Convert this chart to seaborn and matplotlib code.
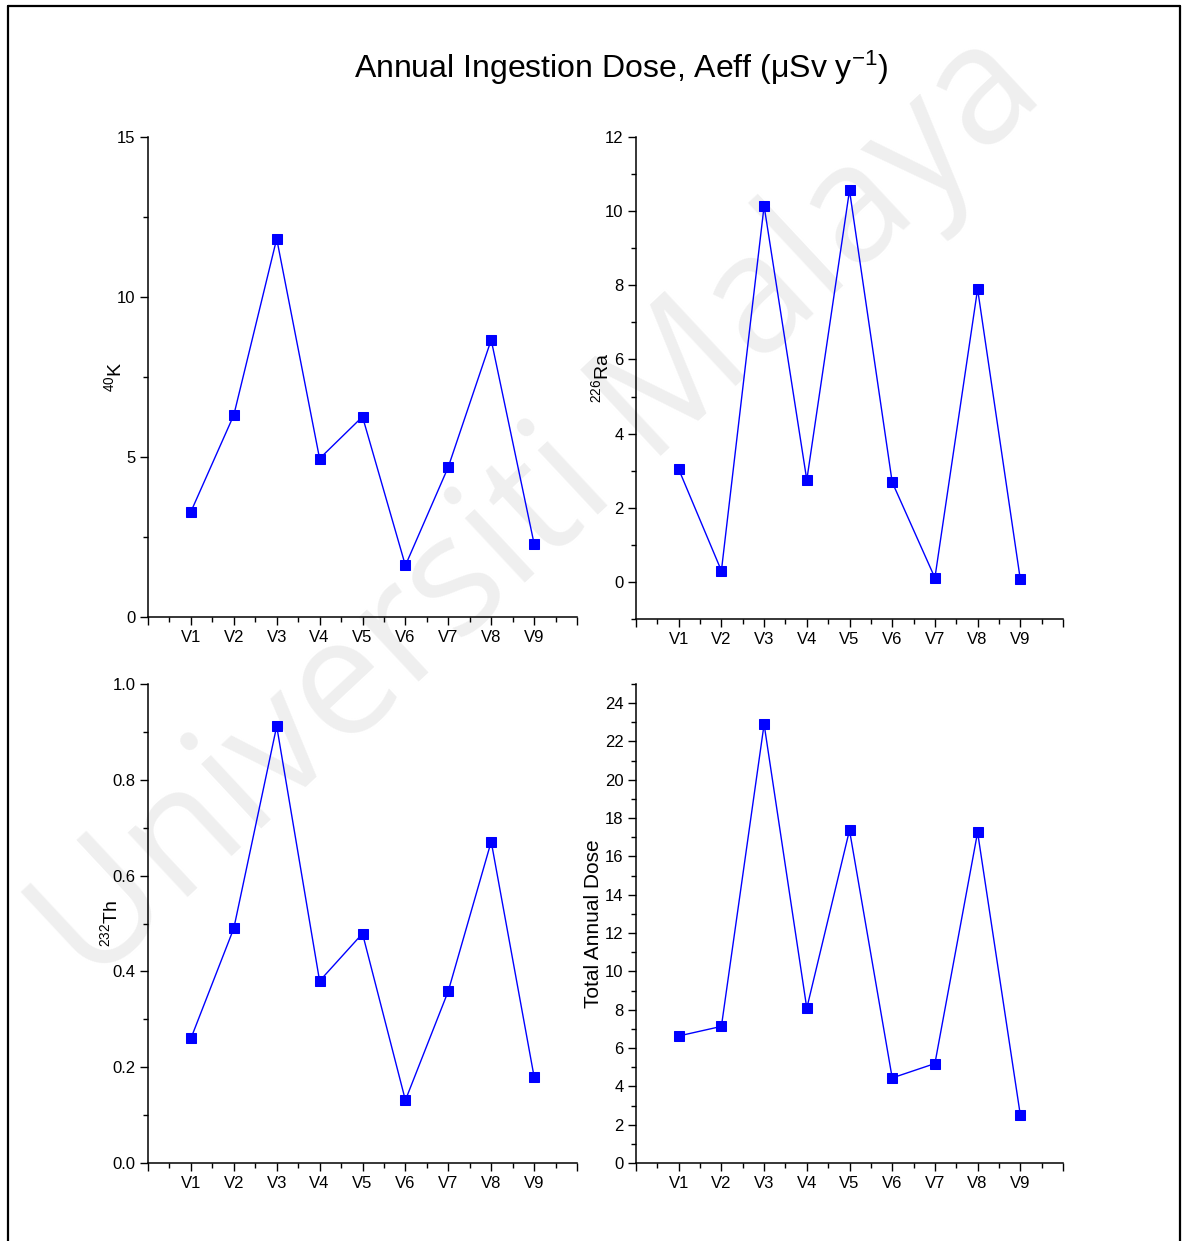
import numpy as np
import pandas as pd
import matplotlib
matplotlib.use("Agg")
import matplotlib.pyplot as plt
from matplotlib.lines import Line2D
from matplotlib.ticker import MultipleLocator, FormatStrFormatter
import seaborn as sns

# ---- data ----
sites = ["V1", "V2", "V3", "V4", "V5", "V6", "V7", "V8", "V9"]
k40 = [3.29, 6.31, 11.82, 4.95, 6.26, 1.61, 4.69, 8.66, 2.29]
ra226 = [3.04, 0.30, 10.14, 2.75, 10.56, 2.69, 0.11, 7.90, 0.07]
th232 = [0.26, 0.49, 0.912, 0.38, 0.479, 0.131, 0.359, 0.671, 0.18]
total = [6.63, 7.13, 22.9, 8.08, 17.37, 4.44, 5.19, 17.26, 2.51]

title = r"Annual Ingestion Dose, Aeff ($\mathregular{\mu}$Sv y$^{\mathregular{-1}}$)"
ylabels = [r"$^{40}$K", r"$^{226}$Ra", r"$^{232}$Th", "Total Annual Dose"]

sns.set_style("ticks")
plt.rcParams["font.family"] = ["Liberation Sans Narrow", "Liberation Sans", "DejaVu Sans"]
plt.rcParams["mathtext.fontset"] = "custom"
plt.rcParams["mathtext.rm"] = "Liberation Sans"
plt.rcParams["mathtext.it"] = "Liberation Sans"
plt.rcParams["mathtext.default"] = "regular"

W, H = 1182, 1241
fig = plt.figure(figsize=(W / 100, H / 100), dpi=100)
fig.patch.set_facecolor("white")

def fx(px):
    return px / W

def fy(py):
    return 1 - py / H

# watermark (behind everything)
fig.text(fx(540), fy(510), "Universiti Malaya", rotation=43, ha="center", va="center",
         fontsize=118, color="#efefef", family=["Open Sans", "Lato", "DejaVu Sans"],
         zorder=-10)

# frame
fig.add_artist(Line2D([fx(7.5), fx(7.5)], [0, fy(5.5)], color="black", lw=1.6))
fig.add_artist(Line2D([fx(7.5), fx(1179.5)], [fy(5.5), fy(5.5)], color="black", lw=1.6))
fig.add_artist(Line2D([fx(1179.5), fx(1179.5)], [0, fy(5.5)], color="black", lw=1.6))

fig.text(fx(621), fy(68), title, ha="center", va="center", fontsize=23,
         color="black", family=["Liberation Sans Narrow", "Liberation Sans"])

panels = [
    # left, right, top, bottom (pixels), values, ylim, major, minor, label, labelpad, size
    (148, 577, 137, 617, k40, (0, 15), 5, 2.5, ylabels[0], -6, 14),
    (636, 1063, 137, 619, ra226, (-1, 12), 2, 1, ylabels[1], -5, 14),
    (148, 577, 684, 1163, th232, (0, 1.0), 0.2, 0.1, ylabels[2], -6, 14),
    (636, 1063, 684, 1163, total, (0, 25), 2, 1, ylabels[3], 1, 15),
]

for (l, r, t, b, vals, ylim, maj, mnr, lab, lp, fs) in panels:
    ax = fig.add_axes([fx(l), fy(b), fx(r) - fx(l), fy(t) - fy(b)])
    ax.set_facecolor("none")
    df = pd.DataFrame({"site": sites, "value": vals})
    sns.lineplot(data=df, x="site", y="value", ax=ax, color="#0000ff", lw=1.0,
                 marker="s", markersize=7.5, markeredgecolor="#0000ff",
                 markerfacecolor="#0000ff", sort=False)
    ax.set_xlim(-1, 9)
    ax.set_ylim(*ylim)
    ax.set_xticks(range(-1, 10))
    ax.set_xticklabels([""] + sites + [""])
    ax.xaxis.set_minor_locator(MultipleLocator(0.5))
    ax.yaxis.set_major_locator(MultipleLocator(maj))
    ax.yaxis.set_minor_locator(MultipleLocator(mnr))
    if maj < 1:
        ax.yaxis.set_major_formatter(FormatStrFormatter("%.1f"))
    for s in ["top", "right"]:
        ax.spines[s].set_visible(False)
    for s in ["left", "bottom"]:
        ax.spines[s].set_linewidth(1.1)
        ax.spines[s].set_color("black")
    ax.tick_params(axis="both", which="major", direction="out", length=6, width=1.0,
                   labelsize=12, color="black", labelcolor="black", pad=3)
    ax.tick_params(axis="both", which="minor", direction="out", length=3.5, width=1.0,
                   color="black")
    ax.set_xlabel("")
    ax.set_ylabel(lab, fontsize=fs, family=["Liberation Sans", "DejaVu Sans"],
                  labelpad=lp, color="black")
    ax.grid(False)

fig.savefig("out.png", dpi=100, facecolor="white")
